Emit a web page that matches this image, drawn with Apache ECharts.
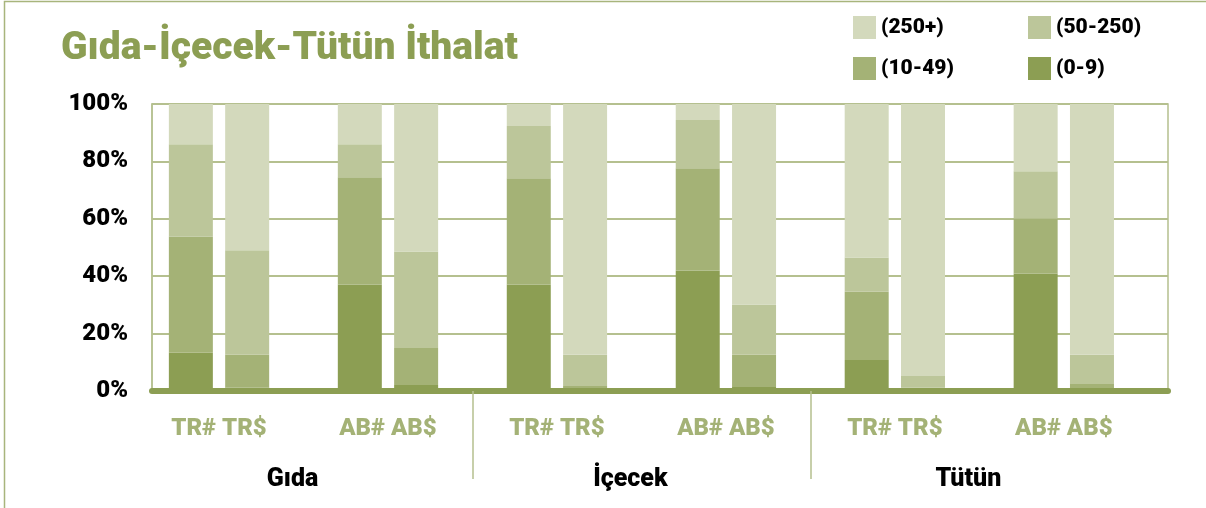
<!DOCTYPE html>
<html>
<head>
<meta charset="utf-8">
<script src="https://cdn.jsdelivr.net/npm/echarts@6/dist/echarts.min.js"></script>
<style>
  html, body { margin: 0; padding: 0; background: #ffffff; }
  #chart { width: 1206px; height: 508px; }
</style>
</head>
<body>
<div id="chart"></div>
<script>
// Import shares by firm size (percent of each bar)
const sectors = ['Gıda', 'İçecek', 'Tütün'];
const pairLabels = ['TR# TR$', 'AB# AB$'];
const barsPerSector = ['TR#', 'TR$', 'AB#', 'AB$'];
const sizeClasses = ['(0-9)', '(10-49)', '(50-250)', '(250+)'];

// one value per bar: Gıda TR#, TR$, AB#, AB$, İçecek ..., Tütün ...
const size0to9    = [13.3, 1.2, 37.1, 2.1, 37.1, 0.4, 42.0, 1.4, 10.8, 0.2, 40.9, 0.4];
const size10to49  = [40.5, 11.4, 37.4, 12.9, 37.0, 1.3, 35.6, 11.2, 23.8, 1.0, 19.2, 2.0];
const size50to250 = [32.2, 36.4, 11.5, 33.6, 18.2, 10.9, 16.8, 17.5, 11.9, 4.0, 16.5, 10.2];
const size250plus = [14.0, 51.0, 14.0, 51.4, 7.7, 87.4, 5.6, 69.9, 53.5, 94.8, 23.4, 87.4];

const yTicks = [0, 20, 40, 60, 80, 100];

const colors = {
  '(0-9)': '#8c9e53',
  '(10-49)': '#a4b276',
  '(50-250)': '#bcc69a',
  '(250+)': '#d3d9bc'
};
const gridGreen = '#b5c08f';
const fontFam = "Roboto, 'Liberation Sans Narrow', sans-serif";
const heavy = 900;

// Plot frame in pixels
const plotLeft = 152, plotRight = 38, plotTop = 104, plotBottom = 117;
const plotWidth = 1206 - plotLeft - plotRight;

// Each pair of bars takes two slots, followed by one empty slot
const slotOf = i => Math.floor(i / 2) * 3 + (i % 2);
const barCount = size0to9.length;
const slotCount = slotOf(barCount - 1) + 1;
const pairCount = sectors.length * pairLabels.length;
const pairCenters = Array.from({ length: pairCount }, (_, p) => p * 3 + 0.5);
const sectorCenters = sectors.map((_, s) => s * 6 + 2);
const separators = sectors.slice(1).map((_, s) => s * 6 + 5);
// slot range covered by the plot frame
const xMin = -0.69;
const xMax = 17.35;
const slotPx = plotWidth / (xMax - xMin);

// category slots: bar names, blanks between pairs
const slotNames = Array.from({ length: slotCount }, () => '');
for (let i = 0; i < barCount; i++) {
  slotNames[slotOf(i)] = sectors[Math.floor(i / 4)] + ' ' + barsPerSector[i % 4];
}

const key = v => v.toFixed(2);
const pairLabelMap = {};
pairCenters.forEach((c, p) => { pairLabelMap[key(c)] = pairLabels[p % pairLabels.length]; });
const sectorLabelMap = {};
sectorCenters.forEach((c, s) => { sectorLabelMap[key(c)] = sectors[s]; });

const valuesByClass = {
  '(0-9)': size0to9,
  '(10-49)': size10to49,
  '(50-250)': size50to250,
  '(250+)': size250plus
};

const series = sizeClasses.map(name => {
  const data = Array.from({ length: slotCount }, () => null);
  valuesByClass[name].forEach((v, i) => { data[slotOf(i)] = v; });
  return {
    name: name,
    type: 'bar',
    stack: 'share',
    xAxisIndex: 2,
    yAxisIndex: 1,
    barWidth: 44,
    itemStyle: { color: colors[name] },
    emphasis: { disabled: true },
    data: data
  };
});

const legendText = {
  color: '#000000',
  fontFamily: fontFam,
  fontWeight: heavy,
  fontSize: 21,
  lineHeight: 23
};
const legendBase = {
  orient: 'vertical',
  top: 16,
  padding: 0,
  itemWidth: 23,
  itemHeight: 23,
  itemGap: 18,
  icon: 'rect',
  selectedMode: false,
  textStyle: legendText
};

const chart = echarts.init(document.getElementById('chart'), null, { renderer: 'canvas' });
chart.setOption({
  animation: false,
  backgroundColor: '#ffffff',
  title: {
    text: 'Gıda-İçecek-Tütün İthalat',
    left: 61,
    top: 30,
    padding: 0,
    textStyle: {
      color: '#8c9e53',
      fontFamily: fontFam,
      fontWeight: heavy,
      fontSize: 39
    }
  },
  legend: [
    Object.assign({ data: ['(250+)', '(10-49)'], left: 853 }, legendBase),
    Object.assign({ data: ['(50-250)', '(0-9)'], left: 1028 }, legendBase)
  ],
  graphic: [
    {
      type: 'rect',
      silent: true,
      shape: { x: 4.5, y: 1.5, width: 1400, height: 700 },
      style: { fill: 'none', stroke: '#a8b57c', lineWidth: 1.5 }
    }
  ],
  grid: [
    {
      left: plotLeft,
      right: plotRight,
      top: plotTop,
      bottom: plotBottom,
      show: true,
      borderColor: gridGreen,
      borderWidth: 1.5,
      backgroundColor: 'transparent'
    },
    {
      // bar area: the category slots inside the frame
      left: plotLeft + (-0.5 - xMin) * slotPx,
      right: plotRight + (xMax - (slotCount - 0.5)) * slotPx,
      top: plotTop,
      bottom: plotBottom
    }
  ],
  xAxis: [
    {
      type: 'value',
      gridIndex: 0,
      min: xMin,
      max: xMax,
      position: 'bottom',
      z: 3,
      axisLine: { show: true, onZero: false, lineStyle: { color: '#8c9e53', width: 6 } },
      axisTick: {
        show: true,
        customValues: separators,
        length: 88,
        lineStyle: { color: gridGreen, width: 1.5 }
      },
      axisLabel: {
        show: true,
        customValues: pairCenters,
        formatter: v => pairLabelMap[key(v)] || '',
        margin: 38,
        verticalAlign: 'middle',
        color: '#a4b276',
        fontFamily: fontFam,
        fontWeight: heavy,
        fontSize: 24
      },
      splitLine: { show: false }
    },
    {
      type: 'value',
      gridIndex: 0,
      min: xMin,
      max: xMax,
      position: 'bottom',
      axisLine: { show: false },
      axisTick: { show: false },
      axisLabel: {
        show: true,
        customValues: sectorCenters,
        formatter: v => sectorLabelMap[key(v)] || '',
        margin: 89,
        padding: [0, 22, 0, 0],
        verticalAlign: 'middle',
        color: '#000000',
        fontFamily: fontFam,
        fontWeight: heavy,
        fontSize: 25
      },
      splitLine: { show: false }
    },
    {
      type: 'category',
      gridIndex: 1,
      data: slotNames,
      boundaryGap: true,
      show: false
    }
  ],
  yAxis: [
    {
      type: 'value',
      gridIndex: 0,
      min: yTicks[0],
      max: yTicks[yTicks.length - 1],
      interval: yTicks[1] - yTicks[0],
      axisLine: { show: true, onZero: false, lineStyle: { color: gridGreen, width: 1.5 } },
      axisTick: { show: false },
      axisLabel: {
        formatter: '{value}%',
        margin: 24,
        color: '#000000',
        fontFamily: fontFam,
        fontWeight: heavy,
        fontSize: 24
      },
      splitLine: { show: true, lineStyle: { color: gridGreen, width: 2 } }
    },
    {
      type: 'value',
      gridIndex: 1,
      min: yTicks[0],
      max: yTicks[yTicks.length - 1],
      show: false,
      splitLine: { show: false }
    }
  ],
  series: series
});
</script>
</body>
</html>
